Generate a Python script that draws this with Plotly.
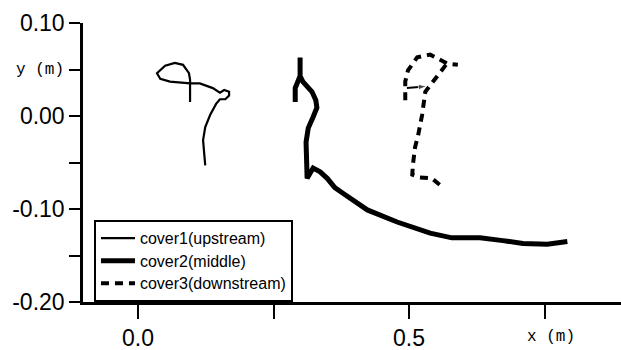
import plotly.graph_objects as go

# ---- data ----
cover1_x = [0.096, 0.096, 0.096, 0.094, 0.083, 0.068, 0.050, 0.035, 0.041, 0.059,
            0.096, 0.114, 0.138, 0.151, 0.159, 0.168, 0.168, 0.161, 0.151, 0.144,
            0.133, 0.124, 0.120, 0.124]
cover1_y = [0.015, 0.028, 0.039, 0.046, 0.055, 0.057, 0.054, 0.046, 0.040, 0.037,
            0.035, 0.035, 0.030, 0.025, 0.028, 0.026, 0.022, 0.018, 0.018, 0.013,
            0.001, -0.012, -0.026, -0.053]

cover2_x = [0.290, 0.290, 0.299, 0.299, 0.299, 0.304, 0.321, 0.328, 0.330, 0.323,
            0.314, 0.310, 0.310, 0.312, 0.323, 0.336, 0.349, 0.363, 0.378, 0.400,
            0.423, 0.478, 0.539, 0.579, 0.631, 0.673, 0.710, 0.755, 0.784, 0.792]
cover2_y = [0.015, 0.030, 0.043, 0.063, 0.043, 0.037, 0.026, 0.017, 0.009, -0.001,
            -0.013, -0.028, -0.045, -0.067, -0.056, -0.060, -0.067, -0.077, -0.083, -0.092,
            -0.101, -0.114, -0.126, -0.131, -0.131, -0.134, -0.137, -0.138, -0.135, -0.135]

cover3_x = [0.493, 0.493, 0.498, 0.515, 0.539, 0.557, 0.572, 0.590, None,
            0.568, 0.552, 0.539, 0.530, 0.524, 0.517, 0.511, 0.507, 0.506, 0.520,
            0.542, 0.561]
cover3_y = [0.017, 0.037, 0.049, 0.063, 0.066, 0.060, 0.056, 0.055, None,
            0.055, 0.042, 0.033, 0.026, 0.001, -0.020, -0.034, -0.053, -0.063, -0.066,
            -0.067, -0.076]

arrow3_x = [0.496, 0.533]
arrow3_y = [0.030, 0.032]

x_tickvals = [0.0, 0.25, 0.5, 0.75]
x_ticktext = ["0.0", "", "0.5", ""]
y_tickvals = [0.10, 0.05, 0.0, -0.05, -0.10, -0.15, -0.20]
y_ticktext = ["0.10", "", "0.00", "", "-0.10", "", "-0.20"]

names = ["cover1(upstream)", "cover2(middle)", "cover3(downstream)"]


def legend_label(s):
    return '<span style="font-size:16px">' + s + '</span>'


fig = go.Figure()
fig.add_trace(go.Scatter(x=cover1_x, y=cover1_y, mode="lines", name=legend_label(names[0]),
                         line=dict(color="black", width=2.2)))
fig.add_trace(go.Scatter(x=cover2_x, y=cover2_y, mode="lines", name=legend_label(names[1]),
                         line=dict(color="black", width=5)))
fig.add_trace(go.Scatter(x=cover3_x, y=cover3_y, mode="lines", name=legend_label(names[2]),
                         connectgaps=False,
                         line=dict(color="black", width=4, dash="8px,6px")))
fig.add_trace(go.Scatter(x=arrow3_x, y=arrow3_y, mode="lines+markers", showlegend=False,
                         line=dict(color="black", width=2),
                         marker=dict(symbol="arrow", size=[0, 9], angleref="previous",
                                     color="black")))

tickfont = dict(family="Liberation Sans, Arial, sans-serif", size=23, color="black")

fig.update_layout(
    width=621, height=350,
    margin=dict(l=83, r=0, t=23, b=48),
    paper_bgcolor="white", plot_bgcolor="white",
    showlegend=True,
    legend=dict(x=0.0204, y=0.294, xanchor="left", yanchor="top",
                bgcolor="white", bordercolor="black", borderwidth=2,
                font=dict(family="Liberation Sans, Arial, sans-serif", size=15, color="black"),
                tracegroupgap=0, itemwidth=34),
    xaxis=dict(range=[-0.1015, 0.891], tickvals=x_tickvals, ticktext=x_ticktext,
               showline=True, linecolor="black", linewidth=2.5, ticks="outside",
               ticklen=14, tickwidth=2, tickcolor="black", showgrid=False,
               zeroline=False, tickfont=tickfont),
    yaxis=dict(range=[-0.20, 0.10], tickvals=y_tickvals, ticktext=y_ticktext,
               showline=True, linecolor="black", linewidth=2.5, ticks="outside",
               ticklen=11, tickwidth=2, tickcolor="black", showgrid=False,
               zeroline=False, tickfont=tickfont),
    annotations=[
        dict(text="y (m)", xref="paper", yref="y", x=0, y=0.05, xanchor="right",
             yanchor="middle", xshift=-17, showarrow=False,
             font=dict(family="Liberation Mono, monospace", size=16, color="black")),
        dict(text="x (m)", xref="x", yref="paper", x=0.75, y=0, xanchor="center",
             yanchor="top", yshift=-24, xshift=6, showarrow=False,
             font=dict(family="Liberation Mono, monospace", size=16, color="black")),
    ],
)

fig.write_html("out.html")
